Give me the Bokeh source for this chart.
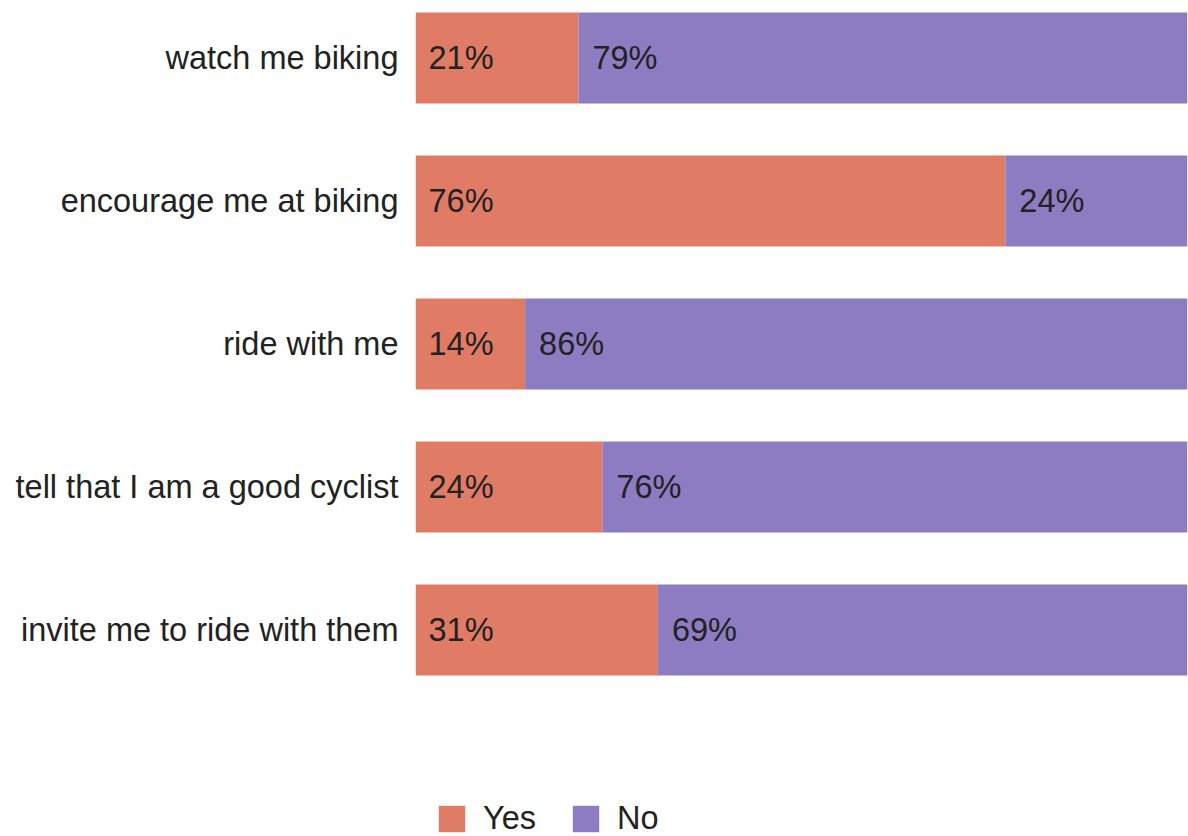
from bokeh.plotting import figure
from bokeh.models import ColumnDataSource, Range1d, FixedTicker, Legend, LegendItem
from bokeh.core.properties import value
from bokeh.embed import file_html
from bokeh.resources import INLINE

categories = ["watch me biking", "encourage me at biking", "ride with me",
              "tell that I am a good cyclist", "invite me to ride with them"]
yes_values = [21.1, 76.4, 14.2, 24.2, 31.4]
no_values = [78.9, 23.6, 85.8, 75.8, 68.6]
series_names = ["Yes", "No"]
series_colors = ["#E07C66", "#8E7CC3"]

FONT = "Liberation Sans"
idx = list(range(len(categories)))
no_end = [y + n for y, n in zip(yes_values, no_values)]

src = ColumnDataSource(dict(
    y=idx,
    yes_left=[0] * len(idx),
    yes_right=yes_values,
    no_left=yes_values,
    no_right=no_end,
    yes_label=[f"{round(v)}%" for v in yes_values],
    no_label=[f"{round(v)}%" for v in no_values],
))

p = figure(width=1188, height=836, output_backend="svg", toolbar_location=None,
           x_range=Range1d(0, 100), y_range=Range1d(start=5.444, end=-0.402),
           x_axis_location=None, min_border_left=415, min_border_right=1,
           min_border_top=0, min_border_bottom=0, tools="")
p.outline_line_color = None
p.grid.visible = False
p.background_fill_color = "white"
p.border_fill_color = "white"

r_yes = p.hbar(y="y", left="yes_left", right="yes_right", height=0.636, source=src,
               fill_color=series_colors[0], line_color=None)
r_no = p.hbar(y="y", left="no_left", right="no_right", height=0.636, source=src,
              fill_color=series_colors[1], line_color=None)

p.text(x="yes_left", y="y", text="yes_label", source=src, x_offset=13,
       text_align="left", text_baseline="middle", text_font=value(FONT),
       text_font_size="32.5px", text_color="#222222")
p.text(x="no_left", y="y", text="no_label", source=src, x_offset=14,
       text_align="left", text_baseline="middle", text_font=value(FONT),
       text_font_size="32.5px", text_color="#222222")

yax = p.yaxis[0]
yax.ticker = FixedTicker(ticks=idx)
yax.major_label_overrides = {i: c for i, c in zip(idx, categories)}
yax.axis_line_color = None
yax.major_tick_line_color = None
yax.minor_tick_line_color = None
yax.major_tick_out = 0
yax.major_tick_in = 0
yax.major_label_standoff = 17
yax.major_label_text_font = FONT
yax.major_label_text_font_size = "32.5px"
yax.major_label_text_color = "#222222"

legend = Legend(items=[LegendItem(label=series_names[0], renderers=[r_yes]),
                       LegendItem(label=series_names[1], renderers=[r_no])],
                orientation="horizontal", location=(20, -1),
                glyph_width=33, glyph_height=33, label_standoff=15, spacing=33,
                padding=0, margin=0, border_line_color=None, background_fill_alpha=0,
                label_text_font=FONT, label_text_font_size="32.5px",
                label_text_color="#222222", label_height=26)
p.add_layout(legend, "center")

open("out.html", "w").write(file_html(p, INLINE))
